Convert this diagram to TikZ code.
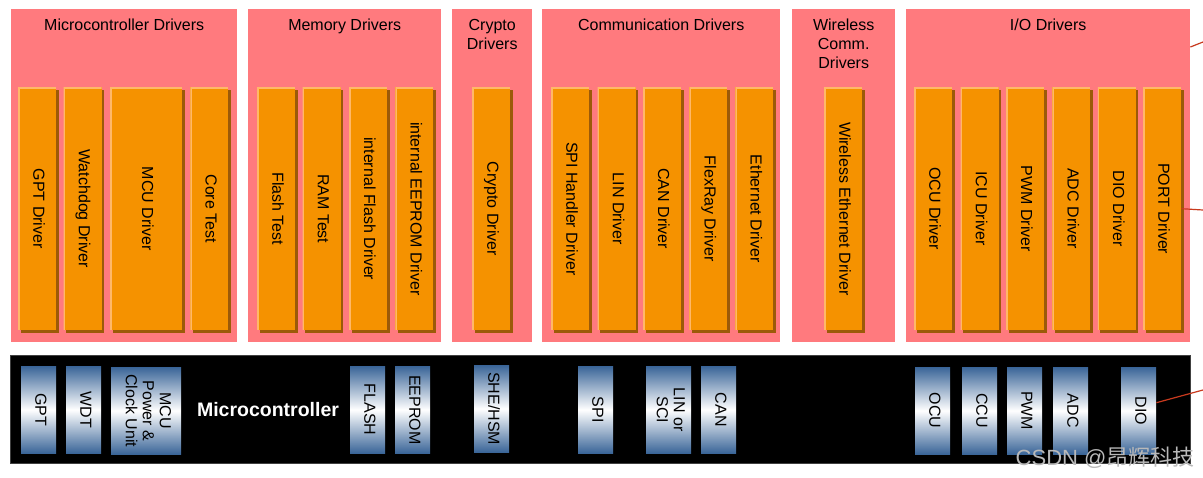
\documentclass[tikz,border=0pt]{standalone}
\usepackage{fontspec}
\setmainfont{Liberation Sans}
\newfontfamily\cjkfont{Noto Sans CJK SC}
\usetikzlibrary{positioning}
\definecolor{grppink}{HTML}{FF7A7E}
\definecolor{barorange}{HTML}{F59200}
\definecolor{barlight}{HTML}{FFB868}
\definecolor{barshadow}{HTML}{9C5A08}
\definecolor{hwblue}{HTML}{3A6598}
\definecolor{linkred}{HTML}{C83A1E}
\newcommand{\vlabel}[1]{\rotatebox{-90}{\begin{tabular}{@{}c@{}}#1\end{tabular}}}
\tikzset{
  grp/.style={fill=grppink, anchor=north west, minimum height=333pt, inner sep=0pt},
  grptitle/.style={anchor=north, align=center, inner sep=0pt, font=\fontsize{16}{19}\selectfont},
  drv/.style={fill=barorange, minimum width=38pt, minimum height=243pt, inner sep=0pt,
    font=\fontsize{16}{19}\selectfont,
    preaction={fill=barshadow, transform canvas={shift={(2.5pt,-2.5pt)}}},
    path picture={\draw[barlight, line width=3pt] (path picture bounding box.south west) |- (path picture bounding box.north east);}},
  hw/.style={top color=hwblue, bottom color=hwblue, middle color=white, anchor=north west,
    minimum width=35pt, minimum height=87pt, inner sep=0pt, font=\fontsize{16}{17}\selectfont},
  link/.style={draw=linkred, line width=1.2pt}
}
\begin{document}
\begin{tikzpicture}[x=1pt, y=-1pt]
  \path[fill=white] (0,0) rectangle (1203,477);
  \useasboundingbox (0,0) rectangle (1203,477);

  \node (gMcu) [grp, minimum width=226pt] at (11,9) {};
  \node (gMem) [grp, minimum width=193pt] at (248,9) {};
  \node (gCry) [grp, minimum width=80pt] at (452,9) {};
  \node (gCom) [grp, minimum width=238pt] at (542,9) {};
  \node (gWls) [grp, minimum width=103pt] at (792,9) {};
  \node (gIo) [grp, minimum width=284pt] at (906,9) {};

  \node (tMcu) [grptitle] at ([yshift=-10pt]gMcu.north) {Microcontroller Drivers};
  \node (tMem) [grptitle] at ([yshift=-10pt]gMem.north) {Memory Drivers};
  \node (tCry) [grptitle] at ([yshift=-10pt]gCry.north) {Crypto\\Drivers};
  \node (tCom) [grptitle] at ([yshift=-10pt]gCom.north) {Communication Drivers};
  \node (tWls) [grptitle] at ([yshift=-10pt]gWls.north) {Wireless\\Comm.\\Drivers};
  \node (tIo) [grptitle] at ([yshift=-10pt]gIo.north) {I/O Drivers};

  \node (gpt) [drv, anchor=north west] at (18,87) {\vlabel{GPT Driver}};
  \node (wdg) [drv, right=7pt of gpt] {\vlabel{Watchdog Driver}};
  \node (mcu) [drv, minimum width=72pt, right=8pt of wdg] {\vlabel{MCU Driver}};
  \node (core) [drv, right=8pt of mcu] {\vlabel{Core Test}};

  \node (flt) [drv, anchor=north west] at (257,87) {\vlabel{Flash Test}};
  \node (ram) [drv, right=7pt of flt] {\vlabel{RAM Test}};
  \node (ifls) [drv, right=8pt of ram] {\vlabel{internal Flash Driver}};
  \node (ieep) [drv, right=8pt of ifls] {\vlabel{internal EEPROM Driver}};

  \node (cry) [drv, anchor=north west] at (472,87) {\vlabel{Crypto Driver}};

  \node (spi) [drv, anchor=north west] at (551,87) {\vlabel{SPI Handler Driver}};
  \node (lin) [drv, right=8pt of spi] {\vlabel{LIN Driver}};
  \node (can) [drv, right=7pt of lin] {\vlabel{CAN Driver}};
  \node (fr) [drv, right=8pt of can] {\vlabel{FlexRay Driver}};
  \node (eth) [drv, right=7.5pt of fr] {\vlabel{Ethernet Driver}};

  \node (weth) [drv, anchor=north west] at (824,87) {\vlabel{Wireless Ethernet Driver}};

  \node (ocu) [drv, anchor=north west] at (914,87) {\vlabel{OCU Driver}};
  \node (icu) [drv, right=8pt of ocu] {\vlabel{ICU Driver}};
  \node (pwm) [drv, right=7pt of icu] {\vlabel{PWM Driver}};
  \node (adc) [drv, right=8pt of pwm] {\vlabel{ADC Driver}};
  \node (dio) [drv, right=7pt of adc] {\vlabel{DIO Driver}};
  \node (port) [drv, right=7pt of dio] {\vlabel{PORT Driver}};

  \node (uc) [fill=black, draw=black!75, anchor=north west, minimum width=1180pt,
    minimum height=108pt, inner sep=0pt] at (10,355) {};
  \node (ucLabel) [text=white, font=\bfseries\fontsize{19.5}{22}\selectfont] at (268,410) {Microcontroller};

  \node (gptHw) [hw] at (21,366) {\vlabel{GPT}};
  \node (wdtHw) [hw] at (66,366) {\vlabel{WDT}};
  \node (mcuHw) [hw, minimum width=70pt] at (111,367) {\vlabel{MCU\\Power \&\\Clock Unit}};
  \node (flsHw) [hw] at (350,366) {\vlabel{FLASH}};
  \node (eepHw) [hw] at (395,366) {\vlabel{EEPROM}};
  \node (sheHw) [hw] at (474,365) {\vlabel{SHE/HSM}};
  \node (spiHw) [hw] at (578,366) {\vlabel{SPI}};
  \node (linHw) [hw, minimum width=45pt] at (646,366) {\vlabel{LIN or\\SCI}};
  \node (canHw) [hw] at (701,366) {\vlabel{CAN}};
  \node (ocuHw) [hw] at (915,367) {\vlabel{OCU}};
  \node (ccuHw) [hw] at (962,367) {\vlabel{CCU}};
  \node (pwmHw) [hw] at (1007,367) {\vlabel{PWM}};
  \node (adcHw) [hw] at (1053,367) {\vlabel{ADC}};
  \node (dioHw) [hw] at (1121,367) {\vlabel{DIO}};

  \coordinate (outA) at (1203,42);
  \coordinate (outB) at (1203,210);
  \coordinate (outC) at (1203,390);
  \draw[link] ([yshift=-38pt]gIo.north east) -- (outA);
  \draw[link] (port.east) -- (outB);
  \draw[link] ([yshift=8pt]dioHw.east) -- (outC);

  \node (wm) [text=gray!55, anchor=east, font=\fontsize{22}{24}\selectfont] at (1198,458) {CSDN @{\cjkfont 昂辉科技}};
\end{tikzpicture}
\end{document}
